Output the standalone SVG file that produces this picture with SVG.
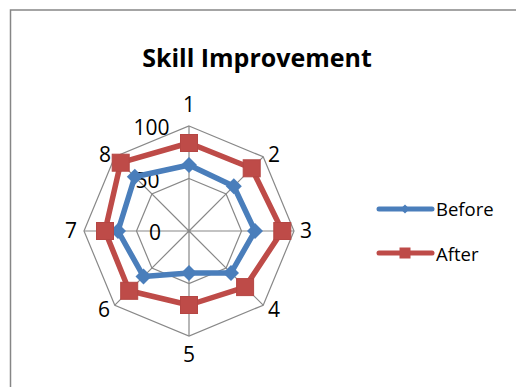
<svg xmlns="http://www.w3.org/2000/svg" width="516" height="387" viewBox="0 0 516 387">
<style>
text{font-family:"Open Sans","Liberation Sans",sans-serif;fill:#000}
.title{font-size:25px;font-weight:bold;text-anchor:middle}
.ax{font-size:21px;text-anchor:middle}
.lg{font-size:18.5px}
.grid{fill:none;stroke:#888;stroke-width:1.2}
.before{fill:none;stroke:#4a7ebb;stroke-width:5.5;stroke-linejoin:round}
.after{fill:none;stroke:#be4b48;stroke-width:5.5;stroke-linejoin:round}
.dm{fill:#4a7ebb}
.sq{fill:#be4b48;stroke:#b54643;stroke-width:1}
</style>
<defs>
<path id="dia" d="M0,-8 L8,0 L0,8 L-8,0 Z"/>
<rect id="sqr" x="-8.5" y="-8.5" width="17" height="17"/>
</defs>
<rect x="0" y="0" width="516" height="387" fill="#fff"/>
<rect x="10.5" y="10" width="530" height="400" fill="none" stroke="#868686" stroke-width="1.5"/>
<text class="title" x="257" y="67">Skill Improvement</text>
<g id="grid">
<polygon class="grid" points="189,126 263.2,156.8 294,231 263.2,305.2 189,336 114.8,305.2 84,231 114.8,156.8"/>
<polygon class="grid" points="189,178.5 226.1,193.9 241.5,231 226.1,268.1 189,283.5 151.9,268.1 136.5,231 151.9,193.9"/>
<path class="grid" d="M189,231L189,126M189,231L263.2,156.8M189,231L294,231M189,231L263.2,305.2M189,231L189,336M189,231L114.8,305.2M189,231L84,231M189,231L114.8,156.8"/>
</g>
<g id="axis-labels">
<text class="ax" x="189" y="112">1</text>
<text class="ax" x="274" y="162">2</text>
<text class="ax" x="306" y="238">3</text>
<text class="ax" x="274" y="317">4</text>
<text class="ax" x="189" y="362">5</text>
<text class="ax" x="104" y="317">6</text>
<text class="ax" x="71" y="238">7</text>
<text class="ax" x="105" y="162">8</text>
<text class="ax" x="151.5" y="135">100</text>
<text class="ax" x="147.5" y="188">50</text>
<text class="ax" x="155" y="240">0</text>
</g>
<g id="series-before">
<polygon class="before" points="189,165 233.8,186.2 255,231 231,273 189,273 143.5,276.5 118,231 134.8,176.8"/>
<use href="#dia" class="dm" x="189" y="165"/>
<use href="#dia" class="dm" x="233.8" y="186.2"/>
<use href="#dia" class="dm" x="255" y="231"/>
<use href="#dia" class="dm" x="231" y="273"/>
<use href="#dia" class="dm" x="189" y="273"/>
<use href="#dia" class="dm" x="143.5" y="276.5"/>
<use href="#dia" class="dm" x="118" y="231"/>
<use href="#dia" class="dm" x="134.8" y="176.8"/>
</g>
<g id="series-after">
<polygon class="after" points="189,143 251.7,168.3 282.3,231 245.1,287.1 189,305 129.2,290.8 105,231 120.7,162.7"/>
<use href="#sqr" class="sq" x="189" y="143"/>
<use href="#sqr" class="sq" x="251.7" y="168.3"/>
<use href="#sqr" class="sq" x="282.3" y="231"/>
<use href="#sqr" class="sq" x="245.1" y="287.1"/>
<use href="#sqr" class="sq" x="189" y="305"/>
<use href="#sqr" class="sq" x="129.2" y="290.8"/>
<use href="#sqr" class="sq" x="105" y="231"/>
<use href="#sqr" class="sq" x="120.7" y="162.7"/>
</g>
<g id="legend">
<line x1="379" y1="209" x2="432" y2="209" stroke="#4a7ebb" stroke-width="5" stroke-linecap="round"/>
<path d="M405,204.5 L409.5,209 L405,213.5 L400.5,209 Z" fill="#4a7ebb"/>
<text class="lg" x="436" y="216">Before</text>
<line x1="379" y1="253" x2="432" y2="253" stroke="#be4b48" stroke-width="5" stroke-linecap="round"/>
<rect x="399.5" y="247.5" width="11" height="11" fill="#be4b48"/>
<text class="lg" x="436" y="261">After</text>
</g>
</svg>
